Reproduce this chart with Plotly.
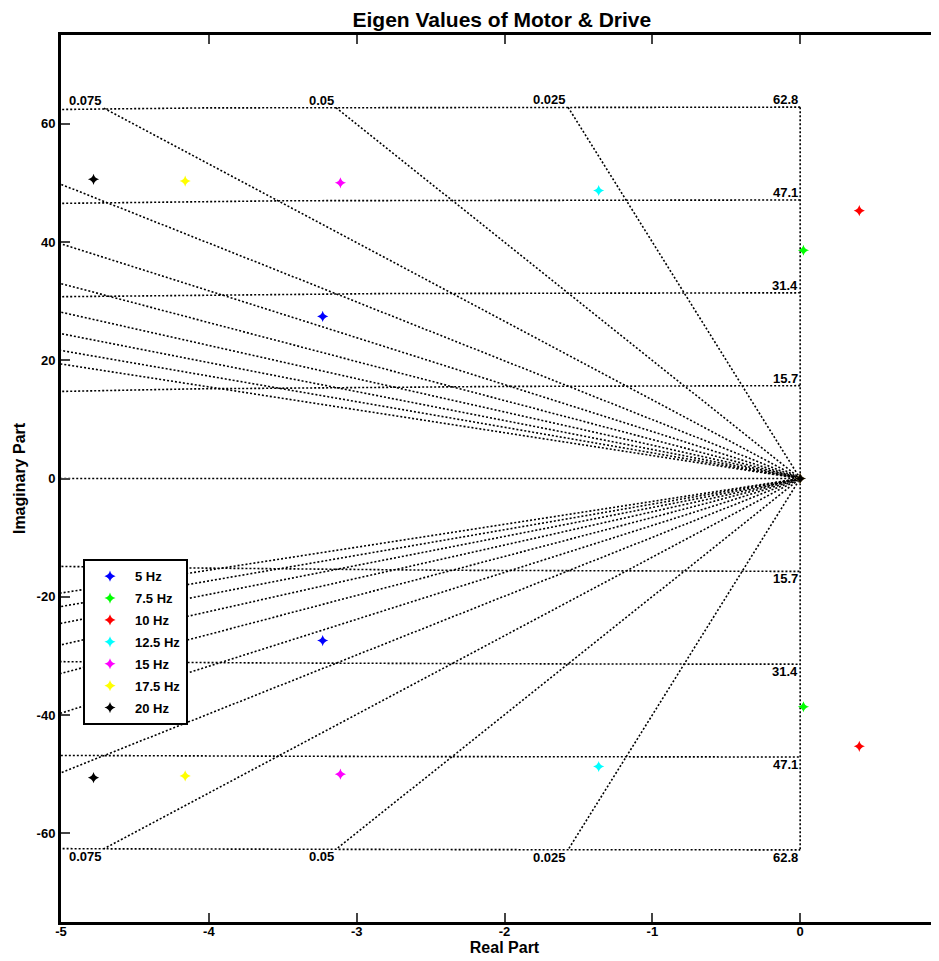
import numpy as np
import plotly.graph_objects as go

# ---- data: eigenvalues (real, imag) per drive frequency ----
series_names = ["5 Hz", "7.5 Hz", "10 Hz", "12.5 Hz", "15 Hz", "17.5 Hz", "20 Hz"]
series_colors = ["#0000ff", "#00ff00", "#ff0000", "#00ffff", "#ff00ff", "#ffff00", "#000000"]
eig_real = [-3.23, 0.022, 0.40, -1.363, -3.11, -4.16, -4.78]
eig_imag = [27.4, 38.6, 45.3, 48.7, 50.0, 50.3, 50.6]

# ---- s-plane grid parameters ----
zetas = [0.0, 0.025, 0.05, 0.075, 0.1, 0.125, 0.15, 0.175, 0.2, 0.225, 0.25, 1.0]
wns = [15.7, 31.4, 47.1, 62.8]
wn_labels = ["15.7", "31.4", "47.1", "62.8"]

x_range = [-5, 1]
y_range = [-75, 75]
x_ticks = [-5, -4, -3, -2, -1, 0, 1]
x_ticktext = ["-5", "-4", "-3", "-2", "-1", "0", "1"]
y_ticks = [-60, -40, -20, 0, 20, 40, 60]
y_ticktext = ["-60", "-40", "-20", "0", "20", "40", "60"]

grid_line = dict(color="black", width=1.6, dash="2px,2px")
fig = go.Figure()

wmax = max(wns)
# damping rays
for z in zetas:
    s = np.sqrt(max(0.0, 1 - z * z))
    xe, ye = -wmax * z, wmax * s
    if ye == 0:
        rx, ry = [xe, 0], [0, 0]
    else:
        rx, ry = [xe, 0, xe], [ye, 0, -ye]
    fig.add_trace(go.Scatter(x=rx, y=ry, mode="lines",
                             line=grid_line, showlegend=False, hoverinfo="skip"))
# natural frequency circles
th = np.linspace(np.pi / 2, 3 * np.pi / 2, 4001)
for w in wns:
    fig.add_trace(go.Scatter(x=w * np.cos(th), y=w * np.sin(th), mode="lines",
                             line=grid_line, showlegend=False, hoverinfo="skip"))

# eigenvalue markers
for i, name in enumerate(series_names):
    fig.add_trace(go.Scatter(
        x=[eig_real[i], eig_real[i], 0], y=[eig_imag[i], -eig_imag[i], 0],
        mode="markers", name=name, legendgroup=name,
        marker=dict(symbol="star-diamond", size=8, color=series_colors[i],
                    line=dict(width=0))))

annots = []
lab_font = dict(family="Liberation Sans", size=13, color="black", weight="bold")
for z in zetas:
    if 0 < z < 1:
        xe = -wmax * z
        ye = wmax * np.sqrt(1 - z * z)
        if xe >= x_range[0]:
            lab = ("%g" % z)
            annots.append(dict(x=xe, y=ye, text=lab, showarrow=False, xanchor="right",
                               yanchor="bottom", font=lab_font, yshift=-2))
            annots.append(dict(x=xe, y=-ye, text=lab, showarrow=False, xanchor="right",
                               yanchor="top", font=lab_font, yshift=2))
for w, lab in zip(wns, wn_labels):
    annots.append(dict(x=0, y=w, text=lab, showarrow=False, xanchor="right",
                       yanchor="bottom", font=lab_font, yshift=-2))
    annots.append(dict(x=0, y=-w, text=lab, showarrow=False, xanchor="right",
                       yanchor="top", font=lab_font, yshift=2))

# the page body has an 8px margin; sizes below compensate for it
fig.update_layout(
    width=940, height=953,
    margin=dict(l=53, r=0, t=27, b=39),
    paper_bgcolor="white", plot_bgcolor="white",
    font=dict(family="Liberation Sans", size=13, color="black", weight="bold"),
    title=dict(text="Eigen Values of Motor & Drive", x=0.497, xanchor="center",
               xref="paper", y=0.988, yanchor="middle", yref="container",
               font=dict(size=21, weight="bold")),
    xaxis=dict(range=x_range, tickvals=x_ticks, ticktext=x_ticktext,
               ticks="inside", ticklen=9, tickwidth=2, automargin=False,
               ticklabelstandoff=-5,
               showline=True, linewidth=3, linecolor="black", mirror="ticks",
               showgrid=False, zeroline=False, tickfont=dict(size=13),
               title=dict(text="Real Part", font=dict(size=16, weight="bold"), standoff=4)),
    yaxis=dict(range=y_range, tickvals=y_ticks, ticktext=y_ticktext,
               ticks="inside", ticklen=9, tickwidth=2, automargin=False,
               showline=True, linewidth=3, linecolor="black", mirror="ticks",
               showgrid=False, zeroline=False, tickfont=dict(size=13),
               title=dict(text="Imaginary Part", font=dict(size=16, weight="bold"), standoff=8)),
    legend=dict(x=0.0248, y=0.409, xanchor="left", yanchor="top",
                bordercolor="black", borderwidth=2, bgcolor="white",
                font=dict(size=13, weight="bold"), tracegroupgap=2, itemwidth=40),
    annotations=annots,
    showlegend=True,
)

fig.write_html("out.html")
